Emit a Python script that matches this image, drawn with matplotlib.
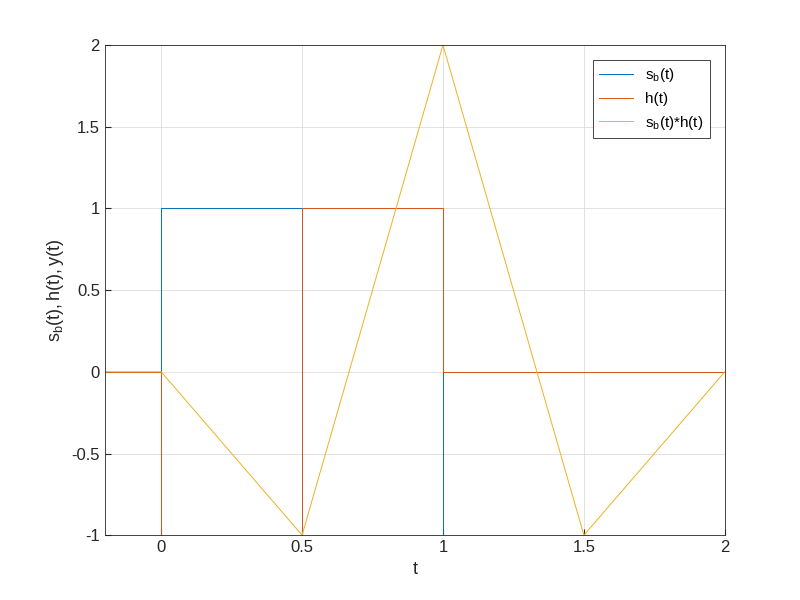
import matplotlib
matplotlib.use("Agg")
import matplotlib.pyplot as plt

plt.rcParams['font.family'] = ['Liberation Sans', 'DejaVu Sans']
plt.rcParams['mathtext.fontset'] = 'custom'
plt.rcParams['mathtext.rm'] = 'Liberation Sans'
plt.rcParams['mathtext.it'] = 'Liberation Sans'

t_sb = [-0.2, 0, 0, 0.5, 0.5, 1, 1, 2]
v_sb = [0, 0, 1, 1, -1, -1, 0, 0]
t_h = [-0.2, 0, 0, 0.5, 0.5, 1, 1, 2]
v_h = [0, 0, -1, -1, 1, 1, 0, 0]
t_y = [-0.2, 0, 0.5, 1, 1.5, 2]
v_y = [0, 0, -1, 2, -1, 0]

fig = plt.figure(figsize=(8, 6), dpi=100)
ax = fig.add_axes([0.131, 0.108, 0.775, 0.817])
ax.plot(t_sb, v_sb, color='#0072BD', lw=0.7, label=r'$\mathregular{s_b(t)}$')
ax.plot(t_h, v_h, color='#D95319', lw=0.7, label='h(t)')
ax.plot(t_y, v_y, color='#EDB120', lw=0.7, label=r'$\mathregular{s_b(t)}$*h(t)')
ax.set_xlim(-0.2, 2)
ax.set_ylim(-1, 2)
ax.set_xticks([0, 0.5, 1, 1.5, 2])
ax.set_xticklabels(['0', '0.5', '1', '1.5', '2'])
ax.set_yticks([-1, -0.5, 0, 0.5, 1, 1.5, 2])
ax.set_yticklabels(['-1', '-0.5', '0', '0.5', '1', '1.5', '2'])
ax.grid(True, color='#DDDDDD', lw=0.6)
ax.tick_params(direction='in', labelsize=12, colors='#262626', length=4)
for s in ax.spines.values():
    s.set_color('#262626'); s.set_linewidth(0.6)
ax.set_xlabel('t', fontsize=13, color='#262626')
ax.set_ylabel(r'$\mathregular{s_b(t), h(t), y(t)}$', fontsize=13, color='#262626')
leg = ax.legend(loc='upper right', fontsize=11, fancybox=False, framealpha=1,
                edgecolor='#262626', handlelength=2.2, borderaxespad=1.0)
leg.get_frame().set_linewidth(0.6)
fig.savefig('out.png', dpi=100)
